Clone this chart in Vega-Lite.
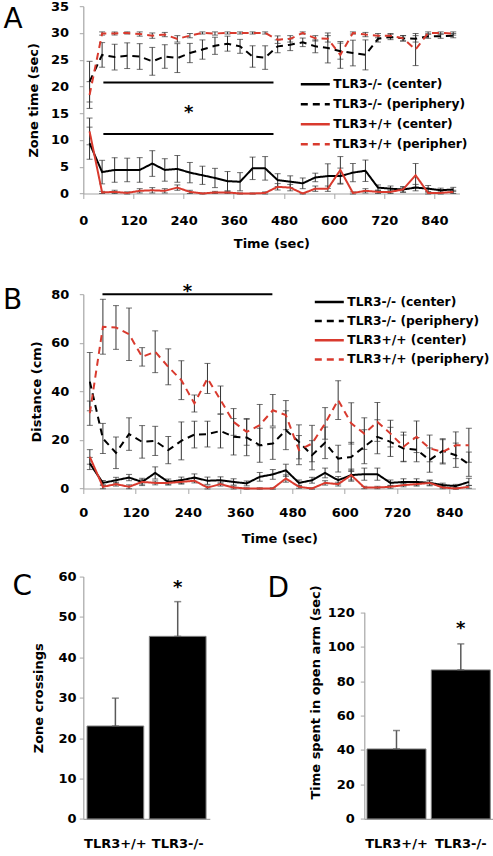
{
 "$schema": "https://vega.github.io/schema/vega-lite/v6.json",
 "padding": {"left": 2.3, "top": 0.2, "right": 0, "bottom": 0},
 "background": "white",
 "spacing": 25.4,
 "config": {
  "view": {"stroke": null},
  "font": "DejaVu Sans",
  "axis": {"grid": false, "domainColor": "#a6a6a6", "tickColor": "#a6a6a6", "domainWidth": 1.2, "tickWidth": 1, "labelFont": "DejaVu Sans", "labelFontSize": 13, "labelFontWeight": "bold", "labelColor": "#000000", "titleFont": "DejaVu Sans", "titleFontSize": 13, "titleFontWeight": "bold", "titleColor": "#000000", "labelOverlap": false},
  "legend": {"orient": "none", "direction": "vertical", "symbolType": "stroke", "symbolSize": 841, "symbolStrokeWidth": 2.5, "labelFont": "DejaVu Sans", "labelFontSize": 12.3, "labelFontWeight": "bold", "labelColor": "#000000", "labelOffset": 2, "padding": 0, "clipHeight": 14},
  "title": {"font": "DejaVu Sans", "fontSize": 28, "fontWeight": "normal", "color": "#000000", "anchor": "start", "frame": "group", "baseline": "top"},
  "text": {"font": "DejaVu Sans"}
 },
 "datasets": {
  "zoneTime": [
   {"t":0,"series":"TLR3-/- (center)","mean":9.4,"sem":3.0},{"t":30,"series":"TLR3-/- (center)","mean":4.0,"sem":2.2},{"t":60,"series":"TLR3-/- (center)","mean":4.4,"sem":2.3},{"t":90,"series":"TLR3-/- (center)","mean":4.4,"sem":2.2},{"t":120,"series":"TLR3-/- (center)","mean":4.4,"sem":2.3},{"t":150,"series":"TLR3-/- (center)","mean":5.6,"sem":2.4},{"t":180,"series":"TLR3-/- (center)","mean":4.4,"sem":2.1},{"t":210,"series":"TLR3-/- (center)","mean":4.6,"sem":2.5},{"t":240,"series":"TLR3-/- (center)","mean":3.9,"sem":1.9},{"t":270,"series":"TLR3-/- (center)","mean":3.4,"sem":1.7},{"t":300,"series":"TLR3-/- (center)","mean":2.9,"sem":1.8},{"t":330,"series":"TLR3-/- (center)","mean":2.3,"sem":1.8},{"t":360,"series":"TLR3-/- (center)","mean":2.2,"sem":1.7},{"t":390,"series":"TLR3-/- (center)","mean":4.7,"sem":2.1},{"t":420,"series":"TLR3-/- (center)","mean":4.7,"sem":2.2},{"t":450,"series":"TLR3-/- (center)","mean":2.5,"sem":1.2},{"t":480,"series":"TLR3-/- (center)","mean":2.2,"sem":1.1},{"t":510,"series":"TLR3-/- (center)","mean":1.9,"sem":1.0},{"t":540,"series":"TLR3-/- (center)","mean":3.0,"sem":0.8},{"t":570,"series":"TLR3-/- (center)","mean":3.25,"sem":2.3},{"t":600,"series":"TLR3-/- (center)","mean":3.25,"sem":1.5},{"t":630,"series":"TLR3-/- (center)","mean":3.9,"sem":1.7},{"t":660,"series":"TLR3-/- (center)","mean":4.25,"sem":2.0},{"t":690,"series":"TLR3-/- (center)","mean":1.1,"sem":0.5},{"t":720,"series":"TLR3-/- (center)","mean":0.9,"sem":0.5},{"t":750,"series":"TLR3-/- (center)","mean":0.75,"sem":0.5},{"t":780,"series":"TLR3-/- (center)","mean":1.1,"sem":0.6},{"t":810,"series":"TLR3-/- (center)","mean":0.9,"sem":0.6},{"t":840,"series":"TLR3-/- (center)","mean":0.6,"sem":0.4},{"t":870,"series":"TLR3-/- (center)","mean":0.75,"sem":0.4},
   {"t":0,"series":"TLR3-/- (periphery)","mean":20.9,"sem":3.8},{"t":30,"series":"TLR3-/- (periphery)","mean":25.9,"sem":2.3},{"t":60,"series":"TLR3-/- (periphery)","mean":25.5,"sem":2.4},{"t":90,"series":"TLR3-/- (periphery)","mean":25.75,"sem":2.4},{"t":120,"series":"TLR3-/- (periphery)","mean":25.6,"sem":2.4},{"t":150,"series":"TLR3-/- (periphery)","mean":24.7,"sem":2.6},{"t":180,"series":"TLR3-/- (periphery)","mean":25.6,"sem":2.2},{"t":210,"series":"TLR3-/- (periphery)","mean":25.3,"sem":2.7},{"t":240,"series":"TLR3-/- (periphery)","mean":26.25,"sem":1.8},{"t":270,"series":"TLR3-/- (periphery)","mean":26.9,"sem":1.8},{"t":300,"series":"TLR3-/- (periphery)","mean":27.6,"sem":1.6},{"t":330,"series":"TLR3-/- (periphery)","mean":28.0,"sem":1.4},{"t":360,"series":"TLR3-/- (periphery)","mean":27.5,"sem":1.3},{"t":390,"series":"TLR3-/- (periphery)","mean":25.6,"sem":2.0},{"t":420,"series":"TLR3-/- (periphery)","mean":25.4,"sem":2.2},{"t":450,"series":"TLR3-/- (periphery)","mean":27.5,"sem":1.2},{"t":480,"series":"TLR3-/- (periphery)","mean":27.8,"sem":1.1},{"t":510,"series":"TLR3-/- (periphery)","mean":28.25,"sem":0.8},{"t":540,"series":"TLR3-/- (periphery)","mean":27.5,"sem":1.2},{"t":570,"series":"TLR3-/- (periphery)","mean":27.2,"sem":2.8},{"t":600,"series":"TLR3-/- (periphery)","mean":26.6,"sem":1.5},{"t":630,"series":"TLR3-/- (periphery)","mean":26.25,"sem":2.4},{"t":660,"series":"TLR3-/- (periphery)","mean":25.9,"sem":2.8},{"t":690,"series":"TLR3-/- (periphery)","mean":28.9,"sem":0.6},{"t":720,"series":"TLR3-/- (periphery)","mean":29.25,"sem":0.5},{"t":750,"series":"TLR3-/- (periphery)","mean":29.0,"sem":0.5},{"t":780,"series":"TLR3-/- (periphery)","mean":28.9,"sem":0.6},{"t":810,"series":"TLR3-/- (periphery)","mean":29.4,"sem":0.4},{"t":840,"series":"TLR3-/- (periphery)","mean":29.4,"sem":0.4},{"t":870,"series":"TLR3-/- (periphery)","mean":29.5,"sem":0.4},
   {"t":0,"series":"TLR3+/+ (center)","mean":11.6,"sem":2.5},{"t":30,"series":"TLR3+/+ (center)","mean":0.2,"sem":0.2},{"t":60,"series":"TLR3+/+ (center)","mean":0.3,"sem":0.3},{"t":90,"series":"TLR3+/+ (center)","mean":0.1,"sem":0.2},{"t":120,"series":"TLR3+/+ (center)","mean":0.5,"sem":0.4},{"t":150,"series":"TLR3+/+ (center)","mean":0.6,"sem":0.5},{"t":180,"series":"TLR3+/+ (center)","mean":0.5,"sem":0.4},{"t":210,"series":"TLR3+/+ (center)","mean":1.1,"sem":0.5},{"t":240,"series":"TLR3+/+ (center)","mean":0.3,"sem":0.3},{"t":270,"series":"TLR3+/+ (center)","mean":0.0,"sem":0.1},{"t":300,"series":"TLR3+/+ (center)","mean":0.2,"sem":0.2},{"t":330,"series":"TLR3+/+ (center)","mean":0.2,"sem":0.2},{"t":360,"series":"TLR3+/+ (center)","mean":0.0,"sem":0.1},{"t":390,"series":"TLR3+/+ (center)","mean":0.0,"sem":0.1},{"t":420,"series":"TLR3+/+ (center)","mean":0.1,"sem":0.2},{"t":450,"series":"TLR3+/+ (center)","mean":1.25,"sem":0.6},{"t":480,"series":"TLR3+/+ (center)","mean":1.1,"sem":0.6},{"t":510,"series":"TLR3+/+ (center)","mean":0.0,"sem":0.1},{"t":540,"series":"TLR3+/+ (center)","mean":0.9,"sem":0.5},{"t":570,"series":"TLR3+/+ (center)","mean":0.9,"sem":0.5},{"t":600,"series":"TLR3+/+ (center)","mean":4.4,"sem":2.5},{"t":630,"series":"TLR3+/+ (center)","mean":0.1,"sem":0.2},{"t":660,"series":"TLR3+/+ (center)","mean":0.5,"sem":0.4},{"t":690,"series":"TLR3+/+ (center)","mean":0.3,"sem":0.3},{"t":720,"series":"TLR3+/+ (center)","mean":0.3,"sem":0.3},{"t":750,"series":"TLR3+/+ (center)","mean":0.75,"sem":0.5},{"t":780,"series":"TLR3+/+ (center)","mean":3.4,"sem":2.2},{"t":810,"series":"TLR3+/+ (center)","mean":0.1,"sem":0.2},{"t":840,"series":"TLR3+/+ (center)","mean":0.1,"sem":0.2},{"t":870,"series":"TLR3+/+ (center)","mean":0.3,"sem":0.3},
   {"t":0,"series":"TLR3+/+ (peripher)","mean":18.4,"sem":2.5},{"t":30,"series":"TLR3+/+ (peripher)","mean":29.9,"sem":0.3},{"t":60,"series":"TLR3+/+ (peripher)","mean":29.9,"sem":0.3},{"t":90,"series":"TLR3+/+ (peripher)","mean":30.0,"sem":0.2},{"t":120,"series":"TLR3+/+ (peripher)","mean":29.8,"sem":0.4},{"t":150,"series":"TLR3+/+ (peripher)","mean":29.5,"sem":0.5},{"t":180,"series":"TLR3+/+ (peripher)","mean":29.7,"sem":0.4},{"t":210,"series":"TLR3+/+ (peripher)","mean":28.9,"sem":0.6},{"t":240,"series":"TLR3+/+ (peripher)","mean":29.5,"sem":0.4},{"t":270,"series":"TLR3+/+ (peripher)","mean":30.0,"sem":0.2},{"t":300,"series":"TLR3+/+ (peripher)","mean":29.9,"sem":0.3},{"t":330,"series":"TLR3+/+ (peripher)","mean":30.0,"sem":0.2},{"t":360,"series":"TLR3+/+ (peripher)","mean":30.0,"sem":0.2},{"t":390,"series":"TLR3+/+ (peripher)","mean":30.0,"sem":0.2},{"t":420,"series":"TLR3+/+ (peripher)","mean":30.0,"sem":0.2},{"t":450,"series":"TLR3+/+ (peripher)","mean":28.75,"sem":0.7},{"t":480,"series":"TLR3+/+ (peripher)","mean":28.9,"sem":0.6},{"t":510,"series":"TLR3+/+ (peripher)","mean":30.0,"sem":0.2},{"t":540,"series":"TLR3+/+ (peripher)","mean":29.0,"sem":0.5},{"t":570,"series":"TLR3+/+ (peripher)","mean":28.9,"sem":0.6},{"t":600,"series":"TLR3+/+ (peripher)","mean":25.9,"sem":2.5},{"t":630,"series":"TLR3+/+ (peripher)","mean":30.0,"sem":0.2},{"t":660,"series":"TLR3+/+ (peripher)","mean":29.7,"sem":0.4},{"t":690,"series":"TLR3+/+ (peripher)","mean":29.5,"sem":0.4},{"t":720,"series":"TLR3+/+ (peripher)","mean":29.5,"sem":0.4},{"t":750,"series":"TLR3+/+ (peripher)","mean":29.0,"sem":0.5},{"t":780,"series":"TLR3+/+ (peripher)","mean":26.9,"sem":3.0},{"t":810,"series":"TLR3+/+ (peripher)","mean":30.0,"sem":0.2},{"t":840,"series":"TLR3+/+ (peripher)","mean":30.0,"sem":0.2},{"t":870,"series":"TLR3+/+ (peripher)","mean":29.9,"sem":0.3}
  ],
  "distance": [
   {"t":0,"series":"TLR3-/- (center)","mean":10.3,"sem":2.5},{"t":30,"series":"TLR3-/- (center)","mean":2.3,"sem":1.0},{"t":60,"series":"TLR3-/- (center)","mean":3.4,"sem":1.2},{"t":90,"series":"TLR3-/- (center)","mean":4.5,"sem":1.3},{"t":120,"series":"TLR3-/- (center)","mean":2.7,"sem":1.5},{"t":150,"series":"TLR3-/- (center)","mean":6.4,"sem":2.5},{"t":180,"series":"TLR3-/- (center)","mean":2.7,"sem":1.2},{"t":210,"series":"TLR3-/- (center)","mean":3.4,"sem":1.3},{"t":240,"series":"TLR3-/- (center)","mean":4.5,"sem":1.5},{"t":270,"series":"TLR3-/- (center)","mean":3.2,"sem":1.5},{"t":300,"series":"TLR3-/- (center)","mean":3.4,"sem":1.4},{"t":330,"series":"TLR3-/- (center)","mean":2.7,"sem":1.3},{"t":360,"series":"TLR3-/- (center)","mean":2.1,"sem":1.0},{"t":390,"series":"TLR3-/- (center)","mean":4.8,"sem":1.8},{"t":420,"series":"TLR3-/- (center)","mean":5.8,"sem":2.0},{"t":450,"series":"TLR3-/- (center)","mean":7.5,"sem":2.5},{"t":480,"series":"TLR3-/- (center)","mean":2.3,"sem":1.2},{"t":510,"series":"TLR3-/- (center)","mean":3.4,"sem":1.2},{"t":540,"series":"TLR3-/- (center)","mean":6.4,"sem":2.0},{"t":570,"series":"TLR3-/- (center)","mean":3.4,"sem":1.5},{"t":600,"series":"TLR3-/- (center)","mean":5.5,"sem":2.0},{"t":630,"series":"TLR3-/- (center)","mean":5.9,"sem":2.5},{"t":660,"series":"TLR3-/- (center)","mean":5.9,"sem":2.5},{"t":690,"series":"TLR3-/- (center)","mean":2.3,"sem":1.2},{"t":720,"series":"TLR3-/- (center)","mean":2.7,"sem":1.3},{"t":750,"series":"TLR3-/- (center)","mean":2.7,"sem":1.3},{"t":780,"series":"TLR3-/- (center)","mean":2.3,"sem":1.2},{"t":810,"series":"TLR3-/- (center)","mean":1.4,"sem":0.8},{"t":840,"series":"TLR3-/- (center)","mean":1.0,"sem":0.7},{"t":870,"series":"TLR3-/- (center)","mean":2.7,"sem":1.5},
   {"t":0,"series":"TLR3-/- (periphery)","mean":44.0,"sem":12.0},{"t":30,"series":"TLR3-/- (periphery)","mean":20.6,"sem":6.2},{"t":60,"series":"TLR3-/- (periphery)","mean":14.7,"sem":6.5},{"t":90,"series":"TLR3-/- (periphery)","mean":22.4,"sem":6.7},{"t":120,"series":"TLR3-/- (periphery)","mean":19.2,"sem":6.7},{"t":150,"series":"TLR3-/- (periphery)","mean":19.6,"sem":6.0},{"t":180,"series":"TLR3-/- (periphery)","mean":15.8,"sem":5.6},{"t":210,"series":"TLR3-/- (periphery)","mean":19.6,"sem":7.8},{"t":240,"series":"TLR3-/- (periphery)","mean":22.2,"sem":5.5},{"t":270,"series":"TLR3-/- (periphery)","mean":22.4,"sem":5.3},{"t":300,"series":"TLR3-/- (periphery)","mean":23.7,"sem":7.0},{"t":330,"series":"TLR3-/- (periphery)","mean":21.3,"sem":7.5},{"t":360,"series":"TLR3-/- (periphery)","mean":21.0,"sem":7.5},{"t":390,"series":"TLR3-/- (periphery)","mean":17.8,"sem":7.0},{"t":420,"series":"TLR3-/- (periphery)","mean":18.5,"sem":6.5},{"t":450,"series":"TLR3-/- (periphery)","mean":24.0,"sem":8.0},{"t":480,"series":"TLR3-/- (periphery)","mean":19.2,"sem":7.0},{"t":510,"series":"TLR3-/- (periphery)","mean":13.7,"sem":6.0},{"t":540,"series":"TLR3-/- (periphery)","mean":18.8,"sem":6.5},{"t":570,"series":"TLR3-/- (periphery)","mean":12.3,"sem":5.5},{"t":600,"series":"TLR3-/- (periphery)","mean":13.0,"sem":6.0},{"t":630,"series":"TLR3-/- (periphery)","mean":17.2,"sem":7.0},{"t":660,"series":"TLR3-/- (periphery)","mean":21.3,"sem":7.0},{"t":690,"series":"TLR3-/- (periphery)","mean":19.2,"sem":6.0},{"t":720,"series":"TLR3-/- (periphery)","mean":16.5,"sem":5.5},{"t":750,"series":"TLR3-/- (periphery)","mean":16.0,"sem":5.0},{"t":780,"series":"TLR3-/- (periphery)","mean":11.7,"sem":5.0},{"t":810,"series":"TLR3-/- (periphery)","mean":15.5,"sem":5.0},{"t":840,"series":"TLR3-/- (periphery)","mean":13.7,"sem":5.0},{"t":870,"series":"TLR3-/- (periphery)","mean":10.0,"sem":5.0},
   {"t":0,"series":"TLR3+/+ (center)","mean":13.0,"sem":3.0},{"t":30,"series":"TLR3+/+ (center)","mean":0.7,"sem":0.8},{"t":60,"series":"TLR3+/+ (center)","mean":1.8,"sem":0.8},{"t":90,"series":"TLR3+/+ (center)","mean":0.7,"sem":0.8},{"t":120,"series":"TLR3+/+ (center)","mean":2.7,"sem":0.9},{"t":150,"series":"TLR3+/+ (center)","mean":2.3,"sem":0.8},{"t":180,"series":"TLR3+/+ (center)","mean":2.3,"sem":0.8},{"t":210,"series":"TLR3+/+ (center)","mean":2.7,"sem":0.9},{"t":240,"series":"TLR3+/+ (center)","mean":3.2,"sem":0.9},{"t":270,"series":"TLR3+/+ (center)","mean":0.4,"sem":0.6},{"t":300,"series":"TLR3+/+ (center)","mean":1.8,"sem":0.8},{"t":330,"series":"TLR3+/+ (center)","mean":0.4,"sem":0.6},{"t":360,"series":"TLR3+/+ (center)","mean":0.0,"sem":0.3},{"t":390,"series":"TLR3+/+ (center)","mean":0.0,"sem":0.3},{"t":420,"series":"TLR3+/+ (center)","mean":0.0,"sem":0.3},{"t":450,"series":"TLR3+/+ (center)","mean":4.1,"sem":1.5},{"t":480,"series":"TLR3+/+ (center)","mean":0.7,"sem":0.6},{"t":510,"series":"TLR3+/+ (center)","mean":0.0,"sem":0.3},{"t":540,"series":"TLR3+/+ (center)","mean":2.3,"sem":0.9},{"t":570,"series":"TLR3+/+ (center)","mean":1.8,"sem":0.8},{"t":600,"series":"TLR3+/+ (center)","mean":5.5,"sem":2.5},{"t":630,"series":"TLR3+/+ (center)","mean":0.4,"sem":0.5},{"t":660,"series":"TLR3+/+ (center)","mean":0.4,"sem":0.5},{"t":690,"series":"TLR3+/+ (center)","mean":0.7,"sem":0.6},{"t":720,"series":"TLR3+/+ (center)","mean":1.4,"sem":0.7},{"t":750,"series":"TLR3+/+ (center)","mean":1.8,"sem":0.8},{"t":780,"series":"TLR3+/+ (center)","mean":2.3,"sem":0.9},{"t":810,"series":"TLR3+/+ (center)","mean":0.4,"sem":0.5},{"t":840,"series":"TLR3+/+ (center)","mean":0.0,"sem":0.3},{"t":870,"series":"TLR3+/+ (center)","mean":0.7,"sem":0.6},
   {"t":0,"series":"TLR3+/+ (periphery)","mean":31.0,"sem":5.0},{"t":30,"series":"TLR3+/+ (periphery)","mean":66.6,"sem":11.3},{"t":60,"series":"TLR3+/+ (periphery)","mean":66.3,"sem":9.0},{"t":90,"series":"TLR3+/+ (periphery)","mean":63.5,"sem":10.8},{"t":120,"series":"TLR3+/+ (periphery)","mean":54.2,"sem":3.8},{"t":150,"series":"TLR3+/+ (periphery)","mean":56.3,"sem":8.6},{"t":180,"series":"TLR3+/+ (periphery)","mean":50.1,"sem":7.4},{"t":210,"series":"TLR3+/+ (periphery)","mean":44.6,"sem":8.0},{"t":240,"series":"TLR3+/+ (periphery)","mean":35.0,"sem":3.5},{"t":270,"series":"TLR3+/+ (periphery)","mean":45.3,"sem":6.2},{"t":300,"series":"TLR3+/+ (periphery)","mean":36.4,"sem":5.8},{"t":330,"series":"TLR3+/+ (periphery)","mean":27.4,"sem":5.5},{"t":360,"series":"TLR3+/+ (periphery)","mean":23.3,"sem":5.5},{"t":390,"series":"TLR3+/+ (periphery)","mean":26.1,"sem":8.5},{"t":420,"series":"TLR3+/+ (periphery)","mean":32.2,"sem":6.5},{"t":450,"series":"TLR3+/+ (periphery)","mean":30.2,"sem":6.0},{"t":480,"series":"TLR3+/+ (periphery)","mean":15.8,"sem":6.0},{"t":510,"series":"TLR3+/+ (periphery)","mean":18.5,"sem":7.5},{"t":540,"series":"TLR3+/+ (periphery)","mean":26.8,"sem":6.5},{"t":570,"series":"TLR3+/+ (periphery)","mean":36.4,"sem":8.0},{"t":600,"series":"TLR3+/+ (periphery)","mean":26.8,"sem":8.5},{"t":630,"series":"TLR3+/+ (periphery)","mean":22.6,"sem":6.5},{"t":660,"series":"TLR3+/+ (periphery)","mean":27.4,"sem":8.0},{"t":690,"series":"TLR3+/+ (periphery)","mean":22.6,"sem":5.5},{"t":720,"series":"TLR3+/+ (periphery)","mean":17.2,"sem":6.0},{"t":750,"series":"TLR3+/+ (periphery)","mean":21.3,"sem":6.5},{"t":780,"series":"TLR3+/+ (periphery)","mean":16.5,"sem":5.5},{"t":810,"series":"TLR3+/+ (periphery)","mean":15.1,"sem":5.0},{"t":840,"series":"TLR3+/+ (periphery)","mean":17.8,"sem":5.5},{"t":870,"series":"TLR3+/+ (periphery)","mean":17.8,"sem":7.0}
  ],
  "crossings": [
   {"genotype":"TLR3+/+","value":23.0,"top":29.9},
   {"genotype":"TLR3-/-","value":45.2,"top":53.8}
  ],
  "openArm": [
   {"genotype":"TLR3+/+","value":40.6,"top":51.3},
   {"genotype":"TLR3-/-","value":86.5,"top":101.6}
  ]
 },
 "resolve": {
  "scale": {"x": "independent", "y": "independent", "color": "independent", "strokeDash": "independent"},
  "legend": {"color": "independent", "strokeDash": "independent"},
  "axis": {"x": "independent", "y": "independent"}
 },
 "vconcat": [
  {
   "spacing": 32,
   "resolve": {
    "scale": {"x": "independent", "y": "independent", "color": "independent", "strokeDash": "independent"},
    "legend": {"color": "independent", "strokeDash": "independent"},
    "axis": {"x": "independent", "y": "independent"}
   },
   "vconcat": [
    {
     "title": {"text": "A", "dx": -79.9, "offset": -33.8},
     "width": 376.2,
     "height": 187.3,
     "layer": [
      {
       "data": {"name": "zoneTime"},
       "mark": {"type": "errorbar", "color": "#333333", "thickness": 1, "ticks": {"size": 6}},
       "encoding": {
        "x": {"field": "t", "type": "quantitative", "title": "Time (sec)", "scale": {"domain": [-15, 885], "nice": false, "zero": false},
         "axis": {"values": [-15,15,45,75,105,135,165,195,225,255,285,315,345,375,405,435,465,495,525,555,585,615,645,675,705,735,765,795,825,855,885],
          "labelExpr": "(datum.value + 15) % 120 == 0 ? toString(datum.value + 15) : ''",
          "labelDx": 6.27, "labelFlush": false, "labelOverlap": false, "tickSize": 5, "labelPadding": 16.3, "titlePadding": 9.3}},
        "y": {"field": "mean", "type": "quantitative", "title": "Zone time (sec)", "scale": {"domain": [0, 35], "nice": false},
         "axis": {"values": [0,5,10,15,20,25,30,35], "labelOverlap": false, "tickSize": 4, "labelPadding": 10.7, "titlePadding": 10.5}},
        "yError": {"field": "sem"}
       }
      },
      {
       "data": {"name": "zoneTime"},
       "mark": {"type": "line", "strokeWidth": 2},
       "encoding": {
        "x": {"field": "t", "type": "quantitative", "title": "Time (sec)", "scale": {"domain": [-15, 885], "nice": false, "zero": false},
         "axis": {"values": [-15,15,45,75,105,135,165,195,225,255,285,315,345,375,405,435,465,495,525,555,585,615,645,675,705,735,765,795,825,855,885],
          "labelExpr": "(datum.value + 15) % 120 == 0 ? toString(datum.value + 15) : ''",
          "labelDx": 6.27, "labelFlush": false, "labelOverlap": false, "tickSize": 5, "labelPadding": 16.3, "titlePadding": 9.3}},
        "y": {"field": "mean", "type": "quantitative", "title": "Zone time (sec)", "scale": {"domain": [0, 35], "nice": false},
         "axis": {"values": [0,5,10,15,20,25,30,35], "labelOverlap": false, "tickSize": 4, "labelPadding": 10.7, "titlePadding": 10.5}},
        "color": {"field": "series", "type": "nominal",
         "scale": {"domain": ["TLR3-/- (center)", "TLR3-/- (periphery)", "TLR3+/+ (center)", "TLR3+/+ (peripher)"], "range": ["#000000", "#000000", "#d93a2e", "#d93a2e"]},
         "legend": {"title": null, "legendX": 216, "legendY": 71, "rowPadding": 6}},
        "strokeDash": {"field": "series", "type": "nominal",
         "scale": {"domain": ["TLR3-/- (center)", "TLR3-/- (periphery)", "TLR3+/+ (center)", "TLR3+/+ (peripher)"], "range": [[1, 0], [7, 5], [1, 0], [7, 5]]},
         "legend": {"title": null, "legendX": 216, "legendY": 71, "rowPadding": 6}}
       }
      },
      {
       "data": {"values": [{"t0": 33, "t1": 440, "v": 20.75}, {"t0": 33, "t1": 440, "v": 11.1}]},
       "mark": {"type": "rule", "strokeWidth": 2, "color": "#000000"},
       "encoding": {
        "x": {"field": "t0", "type": "quantitative", "title": "Time (sec)", "scale": {"domain": [-15, 885], "nice": false, "zero": false}},
        "x2": {"field": "t1"},
        "y": {"field": "v", "type": "quantitative", "title": "Zone time (sec)", "scale": {"domain": [0, 35], "nice": false},
         "axis": {"values": [0,5,10,15,20,25,30,35], "labelOverlap": false, "tickSize": 4, "labelPadding": 10.7, "titlePadding": 10.5}}
       }
      },
      {
       "data": {"values": [{"t": 237, "v": 15.1, "label": "*"}]},
       "mark": {"type": "text", "fontSize": 18, "fontWeight": "bold", "baseline": "middle", "color": "#000000"},
       "encoding": {
        "x": {"field": "t", "type": "quantitative", "title": "Time (sec)", "scale": {"domain": [-15, 885], "nice": false, "zero": false}},
        "y": {"field": "v", "type": "quantitative", "title": "Zone time (sec)", "scale": {"domain": [0, 35], "nice": false},
         "axis": {"values": [0,5,10,15,20,25,30,35], "labelOverlap": false, "tickSize": 4, "labelPadding": 10.7, "titlePadding": 10.5}},
        "text": {"field": "label"}
       }
      }
     ]
    },
    {
     "title": {"text": "B", "dx": -80.4, "offset": -32.3},
     "width": 392.1,
     "height": 194.3,
     "layer": [
      {
       "data": {"name": "distance"},
       "mark": {"type": "errorbar", "color": "#333333", "thickness": 1, "ticks": {"size": 6}},
       "encoding": {
        "x": {"field": "t", "type": "quantitative", "title": "Time (sec)", "scale": {"domain": [-15, 885], "nice": false, "zero": false},
         "axis": {"values": [-15,15,45,75,105,135,165,195,225,255,285,315,345,375,405,435,465,495,525,555,585,615,645,675,705,735,765,795,825,855,885],
          "labelExpr": "(datum.value + 15) % 120 == 0 ? toString(datum.value + 15) : ''",
          "labelDx": 6.53, "labelFlush": false, "labelOverlap": false, "tickSize": 5, "labelPadding": 13.2, "titlePadding": 12.4}},
        "y": {"field": "mean", "type": "quantitative", "title": "Distance (cm)", "scale": {"domain": [0, 80], "nice": false},
         "axis": {"values": [0,20,40,60,80], "labelOverlap": false, "tickSize": 4, "labelPadding": 10.4, "titlePadding": 7}},
        "yError": {"field": "sem"}
       }
      },
      {
       "data": {"name": "distance"},
       "mark": {"type": "line", "strokeWidth": 2},
       "encoding": {
        "x": {"field": "t", "type": "quantitative", "title": "Time (sec)", "scale": {"domain": [-15, 885], "nice": false, "zero": false}},
        "y": {"field": "mean", "type": "quantitative", "title": "Distance (cm)", "scale": {"domain": [0, 80], "nice": false},
         "axis": {"values": [0,20,40,60,80], "labelOverlap": false, "tickSize": 4, "labelPadding": 10.4, "titlePadding": 7}},
        "color": {"field": "series", "type": "nominal",
         "scale": {"domain": ["TLR3-/- (center)", "TLR3-/- (periphery)", "TLR3+/+ (center)", "TLR3+/+ (periphery)"], "range": ["#000000", "#000000", "#d93a2e", "#d93a2e"]},
         "legend": {"title": null, "legendX": 230, "legendY": 0.7, "rowPadding": 5.2}},
        "strokeDash": {"field": "series", "type": "nominal",
         "scale": {"domain": ["TLR3-/- (center)", "TLR3-/- (periphery)", "TLR3+/+ (center)", "TLR3+/+ (periphery)"], "range": [[1, 0], [7, 5], [1, 0], [7, 5]]},
         "legend": {"title": null, "legendX": 230, "legendY": 0.7, "rowPadding": 5.2}}
       }
      },
      {
       "data": {"values": [{"t0": 29, "t1": 419, "v": 80}]},
       "mark": {"type": "rule", "strokeWidth": 2, "color": "#000000"},
       "encoding": {
        "x": {"field": "t0", "type": "quantitative", "title": "Time (sec)", "scale": {"domain": [-15, 885], "nice": false, "zero": false}},
        "x2": {"field": "t1"},
        "y": {"field": "v", "type": "quantitative", "title": "Distance (cm)", "scale": {"domain": [0, 80], "nice": false}}
       }
      },
      {
       "data": {"values": [{"t": 224, "v": 81.0, "label": "*"}]},
       "mark": {"type": "text", "fontSize": 18, "fontWeight": "bold", "baseline": "middle", "color": "#000000"},
       "encoding": {
        "x": {"field": "t", "type": "quantitative", "title": "Time (sec)", "scale": {"domain": [-15, 885], "nice": false, "zero": false}},
        "y": {"field": "v", "type": "quantitative", "title": "Distance (cm)", "scale": {"domain": [0, 80], "nice": false}},
        "text": {"field": "label"}
       }
      }
     ]
    }
   ]
  },
  {
   "spacing": 57,
   "resolve": {"scale": {"x": "independent", "y": "independent"}, "axis": {"x": "independent", "y": "independent"}},
   "hconcat": [
    {
     "title": {"text": "C", "dx": -70.9, "offset": -30.1},
     "width": 126.5,
     "height": 242.3,
     "layer": [
      {
       "data": {"name": "crossings"},
       "mark": {"type": "bar", "color": "#000000", "stroke": "#808080", "strokeWidth": 1},
       "encoding": {
        "x": {"field": "genotype", "type": "nominal", "title": null, "sort": ["TLR3+/+", "TLR3-/-"], "scale": {"paddingInner": 0.09, "paddingOuter": 0.06},
         "axis": {"labelAngle": 0, "ticks": false, "tickSize": 0, "labelPadding": 18.2, "labelDx": -5}},
        "y": {"field": "value", "type": "quantitative", "title": "Zone crossings", "scale": {"domain": [0, 60], "nice": false},
         "axis": {"values": [0,10,20,30,40,50,60], "labelOverlap": false, "tickSize": 4, "labelPadding": 3.3, "titlePadding": 12}}
       }
      },
      {
       "data": {"name": "crossings"},
       "mark": {"type": "errorbar", "color": "#595959", "thickness": 1.5, "ticks": {"size": 7}},
       "encoding": {
        "x": {"field": "genotype", "type": "nominal", "title": null, "sort": ["TLR3+/+", "TLR3-/-"]},
        "y": {"field": "value", "type": "quantitative", "title": "Zone crossings", "scale": {"domain": [0, 60], "nice": false},
         "axis": {"values": [0,10,20,30,40,50,60], "labelOverlap": false, "tickSize": 4, "labelPadding": 3.3, "titlePadding": 12}},
        "y2": {"field": "top"}
       }
      },
      {
       "data": {"values": [{"genotype": "TLR3-/-", "v": 57.25, "label": "*"}]},
       "mark": {"type": "text", "fontSize": 18, "fontWeight": "bold", "baseline": "middle", "color": "#000000"},
       "encoding": {
        "x": {"field": "genotype", "type": "nominal", "title": null, "sort": ["TLR3+/+", "TLR3-/-"]},
        "y": {"field": "v", "type": "quantitative", "title": "Zone crossings", "scale": {"domain": [0, 60], "nice": false}},
        "text": {"field": "label"}
       }
      }
     ]
    },
    {
     "title": {"text": "D", "dx": -96.7, "offset": -26.6},
     "width": 128.7,
     "height": 242.3,
     "layer": [
      {
       "data": {"name": "openArm"},
       "mark": {"type": "bar", "color": "#000000", "stroke": "#808080", "strokeWidth": 1},
       "encoding": {
        "x": {"field": "genotype", "type": "nominal", "title": null, "sort": ["TLR3+/+", "TLR3-/-"], "scale": {"paddingInner": 0.083, "paddingOuter": 0.042},
         "axis": {"labelAngle": 0, "ticks": false, "tickSize": 0, "labelPadding": 18.2}},
        "y": {"field": "value", "type": "quantitative", "title": "Time spent in open arm (sec)", "scale": {"domain": [0, 120], "nice": false, "range": [242.3, 35.6]},
         "axis": {"values": [0,20,40,60,80,100,120], "labelOverlap": false, "tickSize": 4, "labelPadding": 6, "titlePadding": 4.5, "titleY": 115.3}}
       }
      },
      {
       "data": {"name": "openArm"},
       "mark": {"type": "errorbar", "color": "#595959", "thickness": 1.5, "ticks": {"size": 7}},
       "encoding": {
        "x": {"field": "genotype", "type": "nominal", "title": null, "sort": ["TLR3+/+", "TLR3-/-"]},
        "y": {"field": "value", "type": "quantitative", "title": "Time spent in open arm (sec)", "scale": {"domain": [0, 120], "nice": false, "range": [242.3, 35.6]},
         "axis": {"values": [0,20,40,60,80,100,120], "labelOverlap": false, "tickSize": 4, "labelPadding": 6, "titlePadding": 4.5, "titleY": 115.3}},
        "y2": {"field": "top"}
       }
      },
      {
       "data": {"values": [{"genotype": "TLR3-/-", "v": 110.4, "label": "*"}]},
       "mark": {"type": "text", "fontSize": 18, "fontWeight": "bold", "baseline": "middle", "color": "#000000"},
       "encoding": {
        "x": {"field": "genotype", "type": "nominal", "title": null, "sort": ["TLR3+/+", "TLR3-/-"]},
        "y": {"field": "v", "type": "quantitative", "title": "Time spent in open arm (sec)", "scale": {"domain": [0, 120], "nice": false, "range": [242.3, 35.6]}},
        "text": {"field": "label"}
       }
      }
     ]
    }
   ]
  }
 ]
}
